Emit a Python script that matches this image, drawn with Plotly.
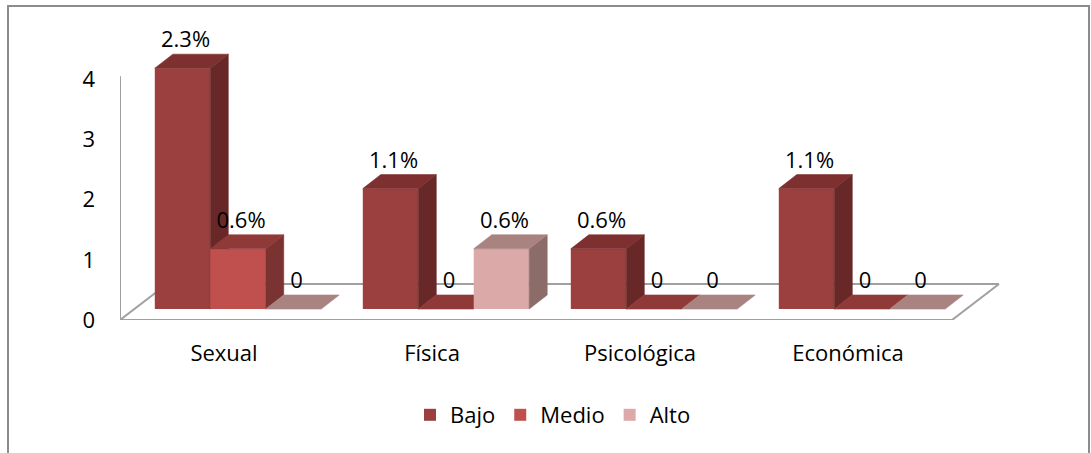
import plotly.graph_objects as go

# ---------------- data ----------------
categories = ["Sexual", "Física", "Psicológica", "Económica"]
series_names = ["Bajo", "Medio", "Alto"]
bajo = [4, 2, 1, 2]
medio = [1, 0, 0, 0]
alto = [0, 1, 0, 0]
bajo_labels = ["2.3%", "1.1%", "0.6%", "1.1%"]
medio_labels = ["0.6%", "0", "0", "0"]
alto_labels = ["0", "0.6%", "0", "0"]
y_ticks = [0, 1, 2, 3, 4]

series_values = [bajo, medio, alto]
series_labels = [bajo_labels, medio_labels, alto_labels]

# ---------------- style ----------------
front_colors = ["#9B403E", "#C0504D", "#DBA9A8"]
top_colors = ["#7D302F", "#8F3A38", "#A8837F"]
side_colors = ["#682827", "#7A3331", "#8C6C69"]
axis_gray = "#A0A0A0"
FONT = "Open Sans"

W, H = 1091, 453
L, R, T, B = 120, 1000, 10, 320          # plot area in page pixels
PX_X = 208.0                              # pixels per category
PX_Y = 60.2                               # pixels per value unit
x_range = [-0.5, -0.5 + (R - L) / PX_X]
y_range = [0, (B - T) / PX_Y]

# pseudo-3D offsets (in data units)
FX, FY = 14 / PX_X, 11 / PX_Y             # bars sit a little behind the floor front edge
DX, DY = 18 / PX_X, 14 / PX_Y             # bar depth
FLX, FLY = 47 / PX_X, 36 / PX_Y           # floor depth
GROUP = 0.8
BW = GROUP / len(series_names)
LABEL_DX, LABEL_DY = 3 / PX_X, 12.5 / PX_Y

fig = go.Figure()

label_x, label_y, label_t = [], [], []
for k, (name, vals, labs) in enumerate(zip(series_names, series_values, series_labels)):
    ax = "" if k == 0 else str(k + 1)
    xref, yref = "x" + ax, "y" + ax
    centers, side_x, side_y, top_x, top_y = [], [], [], [], []
    for i, v in enumerate(vals):
        xl = i - GROUP / 2 + k * BW + FX
        xr = xl + BW
        yb, yt = FY, FY + v
        centers.append((xl + xr) / 2)
        if v > 0:
            side_x += [xr, xr + DX, xr + DX, xr, xr, None]
            side_y += [yb, yb + DY, yt + DY, yt, yb, None]
        top_x += [xl, xr, xr + DX, xl + DX, xl, None]
        top_y += [yt, yt, yt + DY, yt + DY, yt, None]
        label_x.append((xl + xr) / 2 + LABEL_DX)
        label_y.append(yt + DY + LABEL_DY)
        label_t.append(labs[i])
    # front faces (real bars)
    fig.add_trace(go.Bar(
        x=centers, y=vals, base=FY, width=BW, name=name,
        marker=dict(color=front_colors[k], line=dict(width=0)),
        xaxis=xref, yaxis=yref, hoverinfo="skip", showlegend=True,
    ))
    # side faces
    if side_x:
        fig.add_trace(go.Scatter(
            x=side_x, y=side_y, fill="toself", mode="lines",
            fillcolor=side_colors[k], line=dict(color=side_colors[k], width=0.6),
            xaxis=xref, yaxis=yref, hoverinfo="skip", showlegend=False,
        ))
    # top faces
    fig.add_trace(go.Scatter(
        x=top_x, y=top_y, fill="toself", mode="lines",
        fillcolor=top_colors[k], line=dict(color=top_colors[k], width=0.6),
        xaxis=xref, yaxis=yref, hoverinfo="skip", showlegend=False,
    ))

# data labels on top layer
fig.add_trace(go.Scatter(
    x=label_x, y=label_y, text=label_t, mode="text",
    textposition="middle center", textfont=dict(family=FONT, size=22, color="black"),
    xaxis="x3", yaxis="y3", hoverinfo="skip", showlegend=False, cliponaxis=False,
))

# floor & axis lines
x0f, x1f = -0.5, len(categories) - 0.5
shapes = [
    dict(type="line", xref="x", yref="y", x0=x0f, y0=0, x1=x1f, y1=0,
         line=dict(color=axis_gray, width=2), layer="below"),
    dict(type="line", xref="x", yref="y", x0=x1f, y0=0, x1=x1f + FLX, y1=FLY,
         line=dict(color=axis_gray, width=2), layer="below"),
    dict(type="line", xref="x", yref="y", x0=x0f + FLX, y0=FLY, x1=x1f + FLX, y1=FLY,
         line=dict(color=axis_gray, width=2), layer="below"),
    dict(type="line", xref="x", yref="y", x0=x0f, y0=0, x1=x0f + FLX, y1=FLY,
         line=dict(color=axis_gray, width=2), layer="below"),
    dict(type="line", xref="x", yref="y", x0=x0f, y0=0, x1=x0f, y1=max(y_ticks) + 0.05,
         line=dict(color=axis_gray, width=2), layer="below"),
    # outer frame
    dict(type="rect", xref="paper", yref="paper",
         x0=(8 - L) / (R - L), x1=(1089 - L) / (R - L),
         y0=(B - 470) / (B - T), y1=(B - 6) / (B - T),
         line=dict(color="#8C8C8C", width=2), layer="below"),
]

hidden = dict(range=x_range, visible=False, fixedrange=True)
hidden_y = dict(range=y_range, visible=False, fixedrange=True)

fig.update_layout(
    width=W, height=H,
    margin=dict(l=L, r=W - R, t=T, b=H - B, autoexpand=False),
    paper_bgcolor="white", plot_bgcolor="white",
    font=dict(family=FONT, size=22, color="black"),
    barmode="overlay",
    showlegend=True,
    legend=dict(orientation="h", x=(553 - L) / (R - L), xanchor="center",
                y=(B - 415) / (B - T), yanchor="middle",
                font=dict(family=FONT, size=22, color="black"),
                bgcolor="rgba(0,0,0,0)", traceorder="normal"),
    xaxis=dict(range=x_range, tickvals=list(range(len(categories))), ticktext=categories,
               showgrid=False, zeroline=False, showline=False, ticks="",
               ticklabelstandoff=18, fixedrange=True),
    yaxis=dict(range=y_range, tickvals=y_ticks, ticktext=[str(t) for t in y_ticks],
               showgrid=False, zeroline=False, showline=False, ticks="",
               ticklabelstandoff=24, fixedrange=True),
    xaxis2=dict(overlaying="x", **hidden), yaxis2=dict(overlaying="y", **hidden_y),
    xaxis3=dict(overlaying="x", **hidden), yaxis3=dict(overlaying="y", **hidden_y),
    shapes=shapes,
)

# page body without the default 8px margin so the figure fills the window exactly
fig.write_html("out.html",
               config={"displayModeBar": False, "staticPlot": True},
               post_script="document.body.style.margin='0';document.body.style.overflow='hidden';")
